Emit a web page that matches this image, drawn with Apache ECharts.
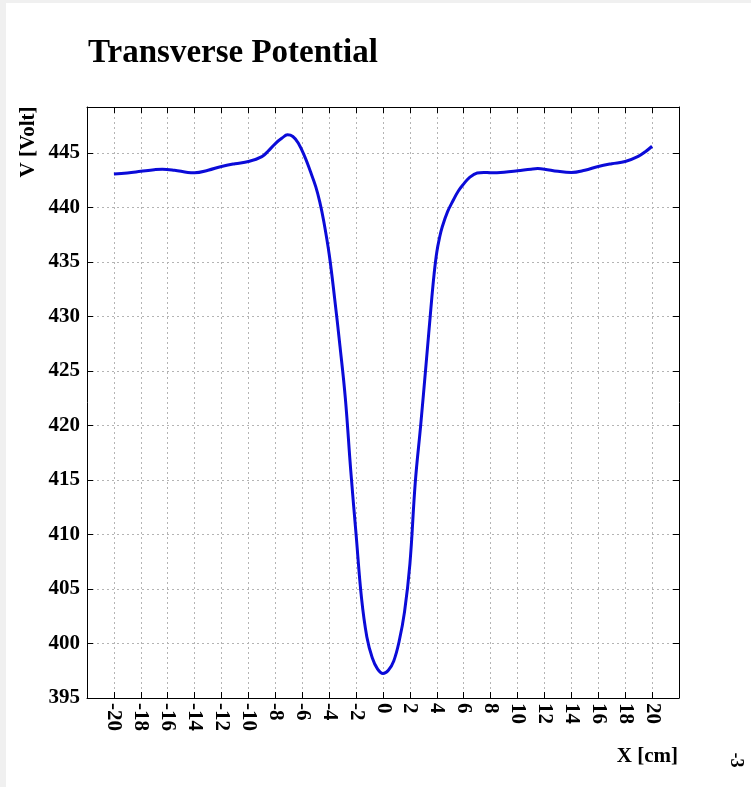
<!DOCTYPE html>
<html>
<head>
<meta charset="utf-8">
<title>Transverse Potential</title>
<script src="https://cdn.jsdelivr.net/npm/echarts@6/dist/echarts.min.js"></script>
<style>
  html, body { margin: 0; padding: 0; background: #ffffff; }
  #chart { width: 751px; height: 787px; }
</style>
</head>
<body>
<div id="chart"></div>
<script>
// Transverse position [cm]
const positionsCm = [
  -20, -19, -18, -17, -16.4, -15.5, -14.5, -14, -13, -12, -11, -10, -9, -8.5, -8, -7.5,
  -7.1, -6.7, -6.3, -5.8, -5.4, -5, -4.7, -4.4, -4, -3.6, -3.2, -2.8, -2.4, -2, -1.6,
  -1.2, -0.8, -0.4, 0, 0.4, 0.8, 1.2, 1.6, 2, 2.4, 2.8, 3.2, 3.6, 3.8, 4, 4.2, 4.4, 4.8, 5.2,
  5.6, 6, 6.4, 7, 7.5, 8, 9, 10, 11, 11.5, 12, 13, 14, 15, 16, 17, 18, 19, 19.5, 20
];
// Potential [Volt] at each position
const potentialVolt = [
  443.05, 443.15, 443.3, 443.45, 443.5, 443.4, 443.2, 443.17, 443.4, 443.75, 444.0, 444.2,
  444.65, 445.2, 445.85, 446.35, 446.65, 446.5, 445.9, 444.6, 443.3, 441.9, 440.5, 438.7,
  435.7, 431.7, 427.3, 422.5, 415.9, 410.0, 404.2, 400.6, 398.7, 397.65, 397.25, 397.55,
  398.4, 400.2, 402.9, 407.3, 414.8, 420.0, 425.6, 431.3, 433.9, 435.9, 437.2, 438.2, 439.6, 440.6,
  441.5, 442.15, 442.7, 443.15, 443.2, 443.17, 443.22, 443.35, 443.5, 443.55, 443.5,
  443.3, 443.2, 443.4, 443.75, 444.0, 444.2, 444.7, 445.1, 445.6
];
// Axis ranges and tick spacing
const xRange = [-22, 22];
const xStep = 2;
const xLabelLimit = 20;
const yRange = [395, 449.2];
const yStep = 5;

const titleText = 'Transverse Potential';
const xTitle = 'X [cm]';
const yTitle = 'V [Volt]';
const exponentText = '-3';

const serif = '"Liberation Serif", "Times New Roman", "DejaVu Serif", serif';

const chart = echarts.init(document.getElementById('chart'), null, { renderer: 'canvas' });

const gridLine = { show: true, lineStyle: { color: '#b4b4b4', width: 1, type: [2, 3] } };
const frameLine = { show: true, onZero: false, lineStyle: { color: '#000000', width: 1 } };
const innerTick = { show: true, inside: true, length: 6, lineStyle: { color: '#000000', width: 1 } };
const tickFont = { fontFamily: serif, fontWeight: 'bold', fontSize: 21, color: '#000000' };

chart.setOption({
  backgroundColor: '#ffffff',
  animation: false,
  grid: { left: 87, top: 107, right: 72, bottom: 89, containLabel: false },
  xAxis: [
    {
      type: 'value', position: 'bottom',
      min: xRange[0], max: xRange[1], interval: xStep,
      axisLine: frameLine, axisTick: innerTick, splitLine: gridLine,
      axisLabel: Object.assign({
        rotate: -90, margin: 5,
        showMinLabel: false, showMaxLabel: false,
        formatter: v => (Math.abs(v) > xLabelLimit ? '' : String(v))
      }, tickFont)
    },
    {
      type: 'value', position: 'top',
      min: xRange[0], max: xRange[1], interval: xStep,
      axisLine: frameLine, axisTick: innerTick,
      splitLine: { show: false }, axisLabel: { show: false }
    }
  ],
  yAxis: [
    {
      type: 'value', position: 'left',
      min: yRange[0], max: yRange[1], interval: yStep,
      axisLine: frameLine, axisTick: innerTick, splitLine: gridLine,
      axisLabel: Object.assign({ margin: 7, showMaxLabel: false }, tickFont)
    },
    {
      type: 'value', position: 'right',
      min: yRange[0], max: yRange[1], interval: yStep,
      axisLine: frameLine, axisTick: innerTick,
      splitLine: { show: false }, axisLabel: { show: false }
    }
  ],
  series: [
    {
      type: 'line',
      xAxisIndex: 0, yAxisIndex: 0,
      data: positionsCm.map((x, i) => [x, potentialVolt[i]]),
      smooth: 0.4,
      showSymbol: false,
      symbol: 'none',
      lineStyle: { color: '#0b0bd8', width: 3 },
      z: 5
    }
  ],
  graphic: [
    // light margin strips along the left and top edges
    { type: 'rect', left: 0, top: 0, shape: { width: 6, height: 787 }, style: { fill: '#f0f0f0' }, silent: true },
    { type: 'rect', left: 0, top: 0, shape: { width: 751, height: 3 }, style: { fill: '#f0f0f0' }, silent: true },
    {
      type: 'text', x: 88, y: 53,
      style: { text: titleText, fontFamily: serif, fontWeight: 'bold', fontSize: 33, fill: '#000000',
               align: 'left', verticalAlign: 'middle' }
    },
    {
      type: 'text', x: 29, y: 142, rotation: Math.PI / 2,
      style: { text: yTitle, fontFamily: serif, fontWeight: 'bold', fontSize: 21, fill: '#000000',
               align: 'center', verticalAlign: 'middle' }
    },
    {
      type: 'text', x: 678, y: 757,
      style: { text: xTitle, fontFamily: serif, fontWeight: 'bold', fontSize: 21, fill: '#000000',
               align: 'right', verticalAlign: 'middle' }
    },
    {
      type: 'text', x: 736, y: 760, rotation: -Math.PI / 2,
      style: { text: exponentText, fontFamily: serif, fontWeight: 'bold', fontSize: 18, fill: '#000000',
               align: 'center', verticalAlign: 'middle' }
    }
  ]
});
</script>
</body>
</html>
